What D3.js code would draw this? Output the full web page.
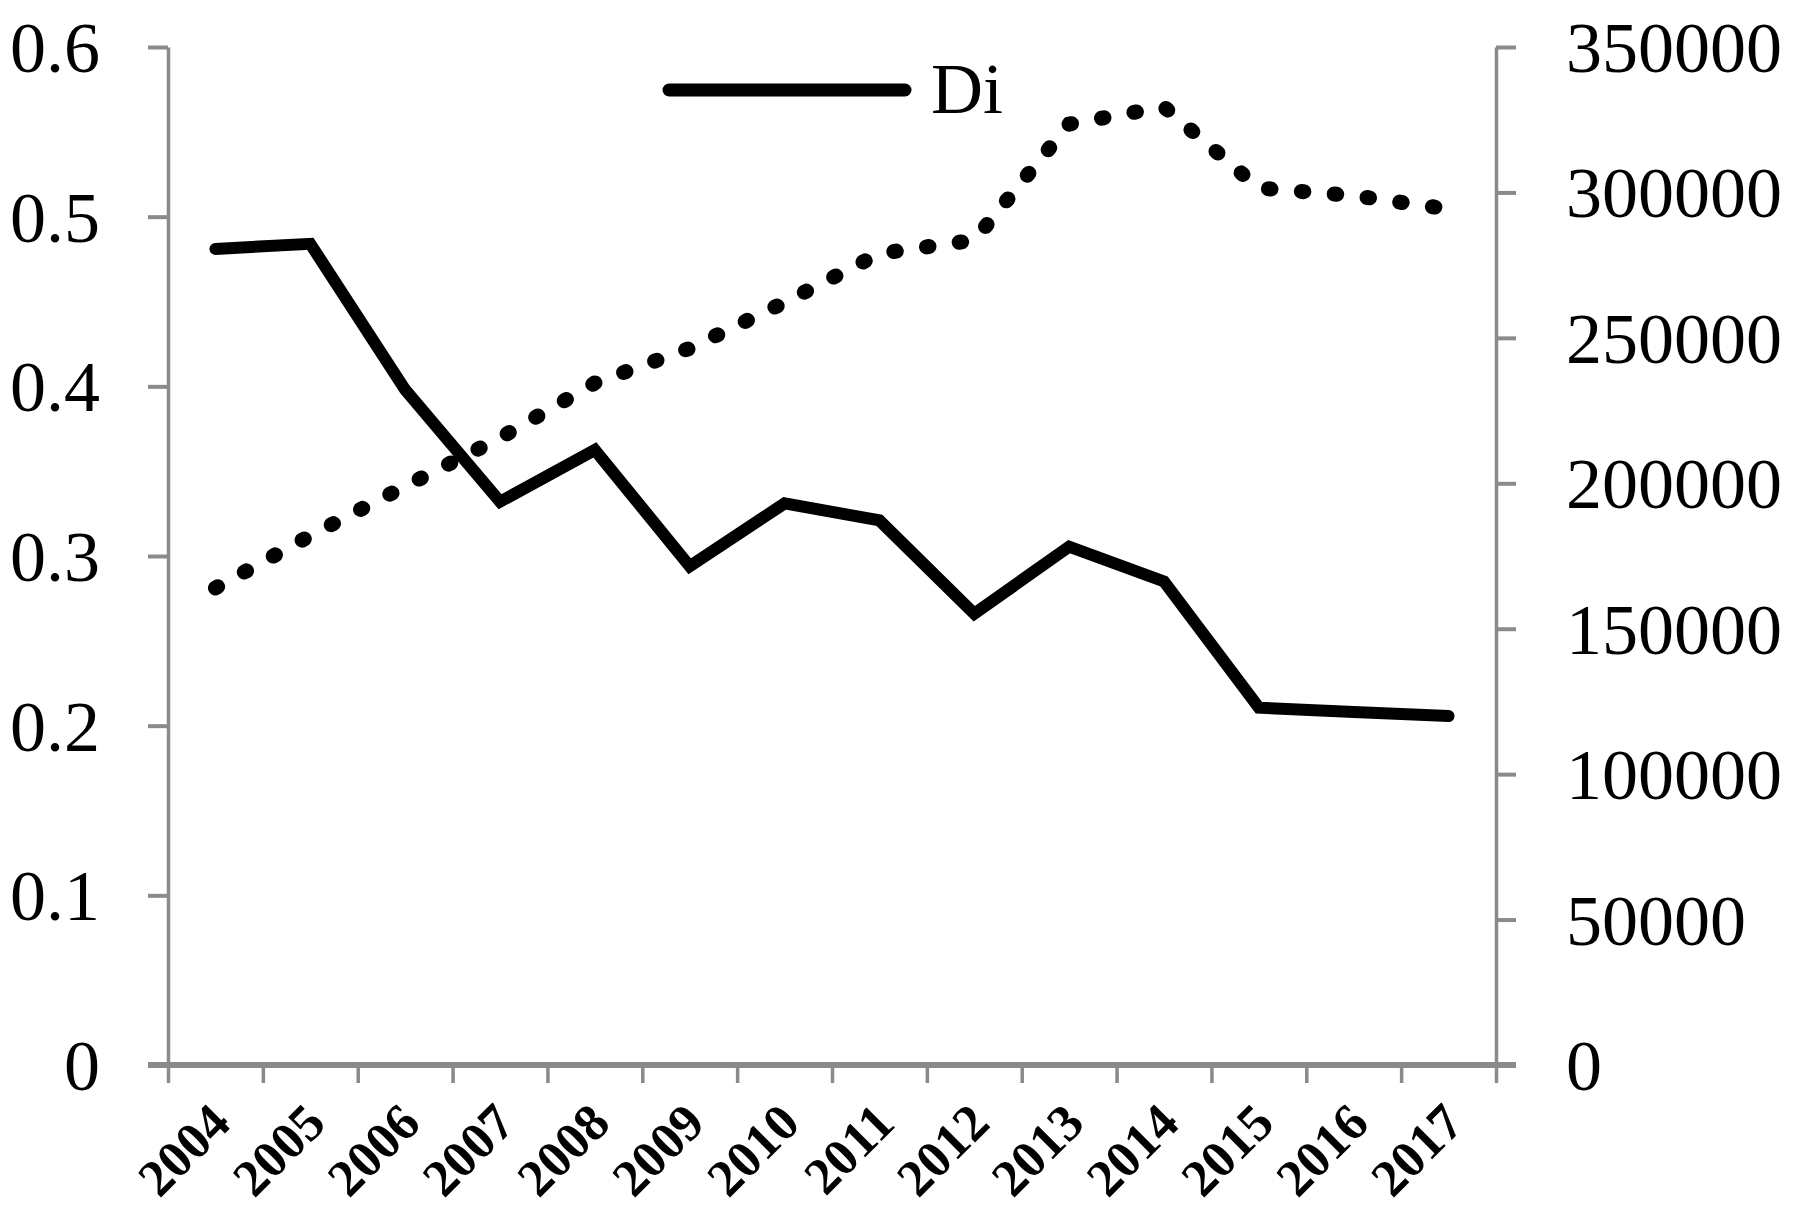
<!DOCTYPE html>
<html>
<head>
<meta charset="utf-8">
<script src="https://cdn.jsdelivr.net/npm/d3@7"></script>
<style>
  html, body { margin: 0; padding: 0; background: #fff; }
  svg { display: block; }
  text { font-family: "Liberation Serif", "Times New Roman", serif; fill: #000; }
</style>
</head>
<body>
<svg id="chart" width="1799" height="1228"></svg>
<script>
// ---- data ----
const years = ["2004","2005","2006","2007","2008","2009","2010","2011","2012","2013","2014","2015","2016","2017"];
const diValues = [0.481, 0.484, 0.398, 0.332, 0.3625, 0.294, 0.331, 0.321, 0.266, 0.3055, 0.285, 0.2106, 0.208, 0.2057];
const dValues = [164000, 182000, 199000, 215600, 234500, 246400, 262200, 279000, 283600, 323500, 329400, 301500, 298900, 294300];
const leftTicks = [0, 0.1, 0.2, 0.3, 0.4, 0.5, 0.6];
const rightTicks = [0, 50000, 100000, 150000, 200000, 250000, 300000, 350000];
const legendLabel = "Di";

// ---- layout ----
const svg = d3.select("#chart");
const L = 168, R = 1496, T = 47, B = 1065;
const axisColor = "#8a8a8a";

const x = d3.scaleBand().domain(years).range([L, R]).padding(0);
const xc = d => x(d) + x.bandwidth() / 2;
const xEdge = d3.scaleLinear().domain([0, years.length]).range([L, R]);
const yL = d3.scaleLinear().domain([0, 0.6]).range([B, T]);
const yR = d3.scaleLinear().domain([0, 350000]).range([B, T]);

// left axis
const gL = svg.append("g").attr("transform", `translate(${L},0)`)
  .call(d3.axisLeft(yL).tickValues(leftTicks).tickSize(20).tickSizeOuter(0).tickPadding(48)
    .tickFormat(d => d === 0 ? "0" : d3.format(".1f")(d)));
gL.select(".domain").attr("stroke", axisColor).attr("stroke-width", 3.5);
gL.selectAll(".tick line").attr("stroke", axisColor).attr("stroke-width", 4);
gL.selectAll(".tick text").attr("font-size", 72).attr("font-family", "Liberation Serif").attr("dy", "0.34em").attr("fill", "#000");

// right axis
const gR = svg.append("g").attr("transform", `translate(${R},0)`)
  .call(d3.axisRight(yR).tickValues(rightTicks).tickSize(20).tickSizeOuter(0).tickPadding(50)
    .tickFormat(d => String(d)));
gR.select(".domain").attr("stroke", axisColor).attr("stroke-width", 3.5);
gR.selectAll(".tick line").attr("stroke", axisColor).attr("stroke-width", 4);
gR.selectAll(".tick text").attr("font-size", 72).attr("font-family", "Liberation Serif").attr("dy", "0.34em").attr("fill", "#000");

// bottom axis (ticks at category boundaries)
const gB = svg.append("g").attr("transform", `translate(0,${B})`)
  .call(d3.axisBottom(xEdge).tickValues(d3.range(0, years.length + 1)).tickSize(18).tickSizeOuter(0).tickFormat(""));
gB.select(".domain").remove();
gB.selectAll(".tick line").attr("stroke", axisColor).attr("stroke-width", 3.5);
svg.append("line")
  .attr("x1", L - 20).attr("x2", R + 20).attr("y1", B).attr("y2", B)
  .attr("stroke", axisColor).attr("stroke-width", 6);

// x labels rotated
svg.append("g").selectAll("text").data(years).join("text")
  .attr("transform", d => `translate(${xc(d) + 5},1113) rotate(-45)`)
  .attr("text-anchor", "end")
  .attr("dy", "0.34em")
  .attr("font-size", 52)
  .attr("font-weight", "bold")
  .text(d => d);

// dotted series (right axis)
const lineR = d3.line().x((d, i) => xc(years[i])).y(d => yR(d));
svg.append("path").datum(dValues)
  .attr("d", lineR)
  .attr("fill", "none")
  .attr("stroke", "#000")
  .attr("stroke-width", 15)
  .attr("stroke-linecap", "round")
  .attr("stroke-dasharray", "2.5 30.5");

// solid Di series (left axis)
const lineL = d3.line().x((d, i) => xc(years[i])).y(d => yL(d));
svg.append("path").datum(diValues)
  .attr("d", lineL)
  .attr("fill", "none")
  .attr("stroke", "#000")
  .attr("stroke-width", 12)
  .attr("stroke-linecap", "round")
  .attr("stroke-linejoin", "miter");

// legend
const lg = svg.append("g");
lg.append("line").attr("x1", 669).attr("x2", 905).attr("y1", 90).attr("y2", 90)
  .attr("stroke", "#000").attr("stroke-width", 13).attr("stroke-linecap", "round");
lg.append("text").attr("x", 931).attr("y", 113).attr("font-size", 72).text(legendLabel);
</script>
</body>
</html>
